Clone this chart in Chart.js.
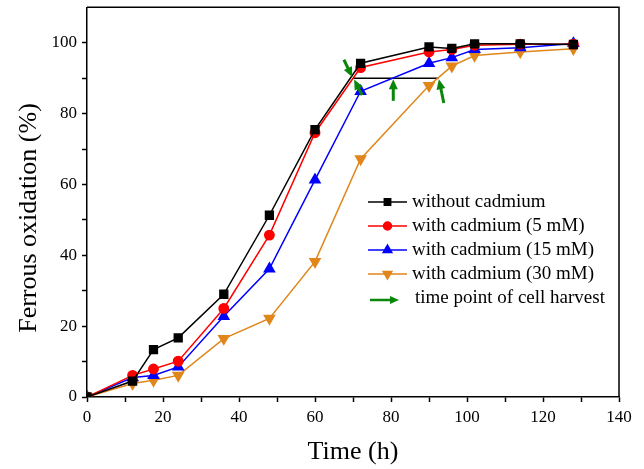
<!DOCTYPE html>
<html>
<head>
<meta charset="utf-8">
<script src="https://cdn.jsdelivr.net/npm/chart.js@4.4.0/dist/chart.umd.min.js"></script>
<style>
  html, body { margin: 0; padding: 0; background: #fff; }
</style>
</head>
<body>
<canvas id="chart" width="644" height="469"></canvas>
<script>
// sampling times (h)
const times = [0, 12, 17.5, 24, 36, 48, 60, 72, 90, 96, 102, 114, 128];

// ferrous oxidation (%)
const noCadmium = [0, 4.5, 13.4, 16.7, 29.0, 51.3, 75.5, 94.2, 98.8, 98.4, 99.7, 99.7, 99.5];
const cd5mM     = [0, 6.1, 7.9, 10.1, 25.0, 45.7, 74.6, 93.0, 97.4, 98.1, 99.3, 99.6, 99.6];
const cd15mM    = [0, 5.5, 6.1, 8.5, 22.8, 36.2, 61.3, 86.3, 94.2, 95.8, 98.1, 98.6, 99.8];
const cd30mM    = [0, 3.8, 4.7, 6.1, 16.5, 22.2, 38.2, 67.2, 87.9, 93.4, 96.4, 97.4, 98.3];

// 90% level line between the harvest points
const harvestLineX = [70, 92.5];
const harvestLineY = [90, 90];

// harvest arrows: [tailX, tailY, headX, headY]
const harvestArrows = [
  [67.6, 95.2, 69.8, 90.3],
  [72.4, 85.2, 70.3, 89.6],
  [80.6, 83.6, 80.6, 89.7],
  [93.9, 83.0, 92.6, 89.7]
];

const legendLabels = [
  'without cadmium',
  'with cadmium (5 mM)',
  'with cadmium (15 mM)',
  'with cadmium (30 mM)',
  'time point of cell harvest'
];

const ORANGE = '#e0861a';
const GREEN = '#0a870a';
const SERIF = '"Liberation Serif", "Times New Roman", serif';

function pts(ys) {
  return times.map((t, i) => ({ x: t, y: ys[i] }));
}

function arrow(ctx, x1, y1, x2, y2, w, head) {
  const a = Math.atan2(y2 - y1, x2 - x1);
  ctx.save();
  ctx.strokeStyle = GREEN;
  ctx.fillStyle = GREEN;
  ctx.lineWidth = w;
  ctx.beginPath();
  ctx.moveTo(x1, y1);
  ctx.lineTo(x2 - Math.cos(a) * head * 0.8, y2 - Math.sin(a) * head * 0.8);
  ctx.stroke();
  ctx.beginPath();
  ctx.moveTo(x2, y2);
  ctx.lineTo(x2 - Math.cos(a) * head + Math.sin(a) * head * 0.45, y2 - Math.sin(a) * head - Math.cos(a) * head * 0.45);
  ctx.lineTo(x2 - Math.cos(a) * head - Math.sin(a) * head * 0.45, y2 - Math.sin(a) * head + Math.cos(a) * head * 0.45);
  ctx.closePath();
  ctx.fill();
  ctx.restore();
}

const extras = {
  id: 'extras',
  afterDatasetsDraw(chart) {
    const { ctx, scales: { x, y } } = chart;
    harvestArrows.forEach(r => {
      arrow(ctx, x.getPixelForValue(r[0]), y.getPixelForValue(r[1]),
        x.getPixelForValue(r[2]), y.getPixelForValue(r[3]), 3, 10);
    });
  },
  afterDraw(chart) {
    const { ctx, chartArea: a } = chart;
    ctx.save();
    // top and right frame
    ctx.strokeStyle = '#000';
    ctx.lineWidth = 1.5;
    ctx.beginPath();
    ctx.moveTo(a.left, a.top);
    ctx.lineTo(a.right, a.top);
    ctx.lineTo(a.right, a.bottom);
    ctx.stroke();

    // axis titles
    ctx.fillStyle = '#000';
    ctx.font = '26px ' + SERIF;
    ctx.textAlign = 'center';
    ctx.textBaseline = 'middle';
    ctx.fillText('Time (h)', (a.left + a.right) / 2, 452);
    ctx.translate(29, 218);
    ctx.rotate(-Math.PI / 2);
    ctx.fillText('Ferrous oxidation (%)', 0, 0);
    ctx.restore();

    // legend
    ctx.save();
    const ds = chart.data.datasets;
    const rows = [202, 226, 250, 274, 300];
    ctx.font = '19px ' + SERIF;
    ctx.textAlign = 'left';
    ctx.textBaseline = 'middle';
    for (let i = 0; i < 4; i++) {
      const d = ds[i];
      ctx.strokeStyle = d.borderColor;
      ctx.lineWidth = 1.5;
      ctx.beginPath();
      ctx.moveTo(368, rows[i]);
      ctx.lineTo(407, rows[i]);
      ctx.stroke();
      ctx.fillStyle = d.pointBackgroundColor;
      ctx.strokeStyle = d.borderColor;
      Chart.helpers.drawPoint(ctx, {
        pointStyle: d.pointStyle, radius: d.legendRadius,
        rotation: d.pointRotation || 0, borderWidth: 1
      }, 387.5, rows[i]);
      ctx.fillStyle = '#000';
      ctx.fillText(legendLabels[i], 412, rows[i]);
    }
    arrow(ctx, 370, rows[4], 399, rows[4], 2.5, 9);
    ctx.fillStyle = '#000';
    ctx.fillText(legendLabels[4], 415, rows[4] - 2);
    ctx.restore();
  }
};

function series(data, color, style, radius, legendRadius, rotation) {
  return {
    data: pts(data),
    borderColor: color,
    backgroundColor: color,
    pointBackgroundColor: color,
    pointBorderColor: color,
    pointStyle: style,
    pointRadius: radius,
    pointRotation: rotation || 0,
    legendRadius: legendRadius,
    borderWidth: 1.5,
    tension: 0
  };
}

new Chart(document.getElementById('chart'), {
  type: 'line',
  data: {
    datasets: [
      series(noCadmium, '#000000', 'rect', 5.5, 4.5),
      series(cd5mM, '#ff0000', 'circle', 4.7, 4),
      series(cd15mM, '#0000ff', 'triangle', 5.8, 5),
      series(cd30mM, ORANGE, 'triangle', 5.8, 5, 180),
      {
        data: harvestLineX.map((v, i) => ({ x: v, y: harvestLineY[i] })),
        borderColor: '#000', borderWidth: 1.5, pointRadius: 0
      }
    ]
  },
  options: {
    responsive: false,
    animation: false,
    layout: { padding: { top: 7, right: 25, left: 0, bottom: 0 } },
    plugins: { legend: { display: false }, tooltip: { enabled: false } },
    scales: {
      x: {
        type: 'linear', min: 0, max: 140,
        afterFit: s => { s.height = 72; s.paddingLeft = 0; s.paddingRight = 0; },
        border: { display: true, color: '#000', width: 1.5 },
        grid: { drawOnChartArea: false, drawTicks: true, tickLength: 5, tickColor: '#000', tickWidth: 1.5 },
        ticks: {
          stepSize: 10, padding: 5, color: '#000', maxRotation: 0, autoSkip: false,
          font: { family: SERIF, size: 17 },
          callback: v => (v % 20 === 0 ? v : '')
        }
      },
      y: {
        type: 'linear', min: 0, max: 110,
        afterFit: s => { s.width = 87; s.paddingTop = 0; s.paddingBottom = 0; },
        border: { display: true, color: '#000', width: 1.5 },
        grid: {
          drawOnChartArea: false, drawTicks: true, tickLength: 5, tickWidth: 1.5,
          tickColor: c => (c.tick && c.tick.value === 110 ? 'rgba(0,0,0,0)' : '#000')
        },
        ticks: {
          stepSize: 10, padding: 5, color: '#000', autoSkip: false,
          font: { family: SERIF, size: 17 },
          callback: v => (v % 20 === 0 && v <= 100 ? v : '')
        }
      }
    }
  },
  plugins: [extras]
});
</script>
</body>
</html>
